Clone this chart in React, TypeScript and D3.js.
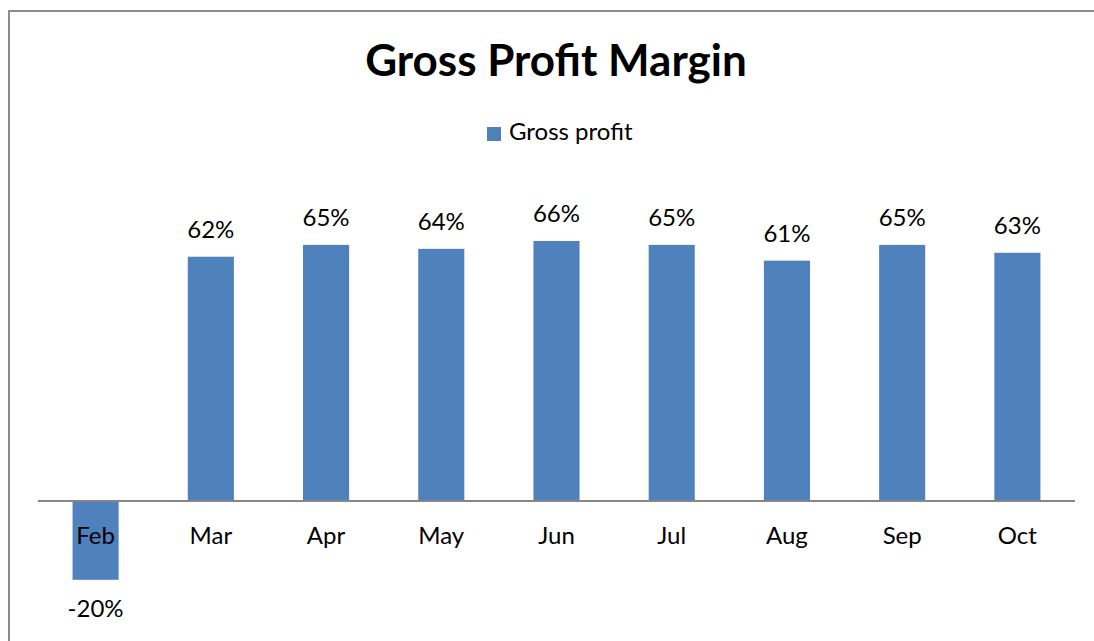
import { useRef, useEffect } from 'react';
import * as d3 from 'd3';

const months = ['Feb', 'Mar', 'Apr', 'May', 'Jun', 'Jul', 'Aug', 'Sep', 'Oct'];
const grossProfit = [-0.2, 0.62, 0.65, 0.64, 0.66, 0.65, 0.61, 0.65, 0.63];
const seriesName = 'Gross profit';
const chartTitle = 'Gross Profit Margin';

export default function App() {
  const ref = useRef<SVGSVGElement>(null);

  useEffect(() => {
    const w = 1094, h = 641;
    const font = 'Lato, "Open Sans", sans-serif';
    const blue = '#4F81BD';

    const svg = d3.select(ref.current)
      .attr('width', w)
      .attr('height', h)
      .style('font-family', font);
    svg.selectAll('*').remove();

    // outer frame (runs off the right/bottom edge)
    svg.append('rect')
      .attr('x', 9).attr('y', 11)
      .attr('width', w + 20).attr('height', h + 20)
      .attr('fill', '#fff')
      .attr('stroke', '#8c8c8c')
      .attr('stroke-width', 2);

    // scales
    const x = d3.scaleBand()
      .domain(months)
      .range([38, 1075])
      .paddingInner(0.6)
      .paddingOuter(0.3);

    const y = d3.scaleLinear()
      .domain([-0.3, 0.8])
      .range([501 + 0.3 * 394, 501 - 0.8 * 394]);

    const data = months.map((m, i) => ({ m, v: grossProfit[i] }));

    // bars
    svg.append('g')
      .selectAll('rect')
      .data(data)
      .join('rect')
        .attr('x', d => x(d.m)!)
        .attr('width', x.bandwidth())
        .attr('y', d => y(Math.max(0, d.v)))
        .attr('height', d => Math.abs(y(d.v) - y(0)))
        .attr('fill', blue);

    // zero axis line
    svg.append('line')
      .attr('x1', 38).attr('x2', 1075)
      .attr('y1', y(0)).attr('y2', y(0))
      .attr('stroke', '#868686')
      .attr('stroke-width', 2);

    // category labels
    svg.append('g')
      .selectAll('text')
      .data(months)
      .join('text')
        .attr('x', d => x(d)! + x.bandwidth() / 2)
        .attr('y', y(0) + 43)
        .attr('text-anchor', 'middle')
        .style('font-size', '24px')
        .attr('fill', '#000')
        .text(d => d);

    // value labels
    svg.append('g')
      .selectAll('text')
      .data(data)
      .join('text')
        .attr('x', d => x(d.m)! + x.bandwidth() / 2)
        .attr('y', d => d.v >= 0 ? y(d.v) - 19 : y(d.v) + 37)
        .attr('text-anchor', 'middle')
        .style('font-size', '24px')
        .attr('fill', '#000')
        .text(d => d3.format('.0%')(d.v).replace('−', '-'));

    // title
    svg.append('text')
      .attr('x', 556).attr('y', 76)
      .attr('text-anchor', 'middle')
      .attr('font-weight', 700)
      .style('font-size', '44px')
      .text(chartTitle);

    // legend
    svg.append('rect')
      .attr('x', 487).attr('y', 127)
      .attr('width', 14).attr('height', 14)
      .attr('fill', blue);
    svg.append('text')
      .attr('x', 509).attr('y', 140)
      .style('font-size', '24px')
      .text(seriesName);
  }, []);

  return <svg ref={ref} style={{ position: 'absolute', left: 0, top: 0 }}></svg>;
}
